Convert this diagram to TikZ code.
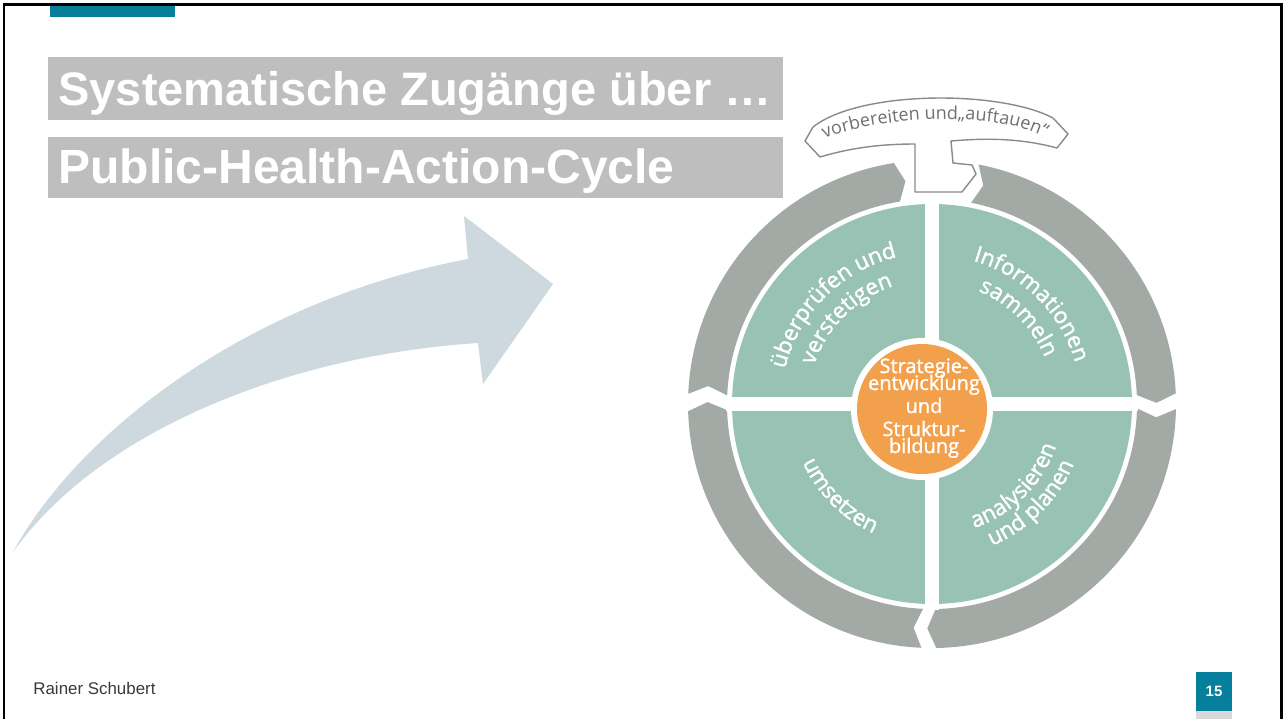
\documentclass[tikz,border=0pt]{standalone}
\usepackage{fontspec}
\setmainfont{Liberation Sans}
\newfontfamily\cycfont{Open Sans}
\newfontfamily\cycsemi[FakeBold=1.4]{Open Sans}
\usetikzlibrary{decorations.text}
\definecolor{barteal}{HTML}{067F9C}
\definecolor{titlegray}{HTML}{BEBEBE}
\definecolor{arrowblue}{HTML}{CDD8DF}
\definecolor{ringgray}{HTML}{A3AAA6}
\definecolor{quadteal}{HTML}{98C3B4}
\definecolor{corange}{HTML}{F2A04C}
\definecolor{bannerline}{HTML}{8A8A8A}
\definecolor{bannertext}{HTML}{707070}
\definecolor{footgray}{HTML}{D9D9D9}
\definecolor{foottext}{HTML}{3A3A3A}
\newcommand\ringseg[2]{%
  \fill[ringgray] (#1:244) arc[start angle=#1, end angle=#2, radius=244]
   -- ({#2-2.2}:224.5) -- (#2:205) arc[start angle=#2, end angle=#1, radius=205]
   -- ({#1-2.2}:224.5) -- cycle;}
\newcommand\qfont{\cycsemi\fontsize{11.2}{13}\selectfont}
\newcommand\cfont{\cycsemi\fontsize{10}{12}\selectfont}
\newcommand\bfont{\cycfont\fontsize{9}{10}\selectfont}
\tikzset{
  qtext/.style={decorate, decoration={text along path, text align=center, text color=white, text={|\qfont|#1}}},
  titletext/.style={anchor=base west, inner sep=0pt, text=white},
  centertext/.style={anchor=base, inner sep=0pt, text=white, font=\cfont},
}
\begin{document}
\begin{tikzpicture}[x=0.5pt,y=0.5pt]
\useasboundingbox (0,0) rectangle (1283,-719);
\fill[white] (0,0) rectangle (1283,-719);

% top teal bar
\fill[barteal] (50,-3) rectangle (175,-17);
% frame
\draw[line width=1.3pt, black] (4,-719) -- (4,-4.5) -- (1281.5,-4.5) -- (1281.5,-719);

% titles
\fill[titlegray] (48,-57) rectangle (783,-120);
\node[titletext, font=\bfseries\fontsize{23.5}{28}\selectfont] (title1) at (58,-105) {Systematische Zugänge über …};
\fill[titlegray] (48,-137) rectangle (783,-198);
\node[titletext, font=\bfseries\fontsize{24}{28}\selectfont] (title2) at (58,-183) {Public-Health-Action-Cycle};

% big arrow
\fill[arrowblue] (13,-552) .. controls (80,-430) and (250,-300) .. (468,-259)
  -- (464,-216) -- (553,-284) -- (483,-384) -- (478,-343)
  .. controls (290,-355) and (100,-430) .. (13,-552) -- cycle;

% cycle
\begin{scope}[shift={(932,-404)}]
  \ringseg{79}{2.5}
  \ringseg{-1.2}{-89}
  \ringseg{-92.5}{-178.3}
  \ringseg{177.6}{99}
  \fill[quadteal] (0,0) circle[radius=200];
  \fill[white] (-7,-206) rectangle (7,206);
  \fill[white] (-206,-7) rectangle (206,7);
  \fill[white] (-10,-5) circle[radius=71];
  \fill[corange] (-10,-5) circle[radius=65];
  \path[qtext={überprüfen und}] (180:151) arc[start angle=180,end angle=90,radius=151];
  \path[qtext={verstetigen}] (180:124) arc[start angle=180,end angle=90,radius=124];
  \path[qtext={Informationen}] (90:149) arc[start angle=90,end angle=0,radius=149];
  \path[qtext={sammeln}] (90:122) arc[start angle=90,end angle=0,radius=122];
  \path[qtext={umsetzen}] (180:142) arc[start angle=180,end angle=270,radius=142];
  \path[qtext={analysieren}] (270:131) arc[start angle=270,end angle=360,radius=131];
  \path[qtext={und planen}] (270:154) arc[start angle=270,end angle=360,radius=154];
\end{scope}

\node[centertext] (c1) at (924,-373) {Strategie-};
\node[centertext] (c2) at (924,-390) {entwicklung};
\node[centertext] (c3) at (924,-413) {und};
\node[centertext] (c4) at (924,-436) {Struktur-};
\node[centertext] (c5) at (924,-453) {bildung};

% banner
\filldraw[fill=white, draw=bannerline, line width=0.7pt, line join=round]
  (813,-127) .. controls (860,-90) and (1000,-90) .. (1053,-118) -- (1068,-134) -- (1057,-148)
  .. controls (1020,-138) and (985,-138) .. (951,-141) -- (953,-163) -- (972,-165) -- (976,-174)
  -- (962,-192) -- (915,-192) -- (915,-144)
  .. controls (880,-144) and (850,-148) .. (820,-157) -- (805,-141) -- cycle;
\path[decorate, decoration={text along path, text align=center, text color=bannertext,
  text={|\bfont|vorbereiten und„auftauen“}}]
  (817,-143) .. controls (858,-118) and (1002,-106) .. (1052,-142);

% footer
\node[anchor=base west, inner sep=0pt, text=foottext, font=\fontsize{8.45}{10}\selectfont] (author) at (33,-694) {Rainer Schubert};
\fill[barteal] (1196,-672) rectangle (1232,-711);
\fill[footgray] (1196,-711) rectangle (1232,-719);
\node[text=white, inner sep=0pt, font=\bfseries\fontsize{7.5}{9}\selectfont] (page) at (1214,-691.5) {15};
\end{tikzpicture}
\end{document}
